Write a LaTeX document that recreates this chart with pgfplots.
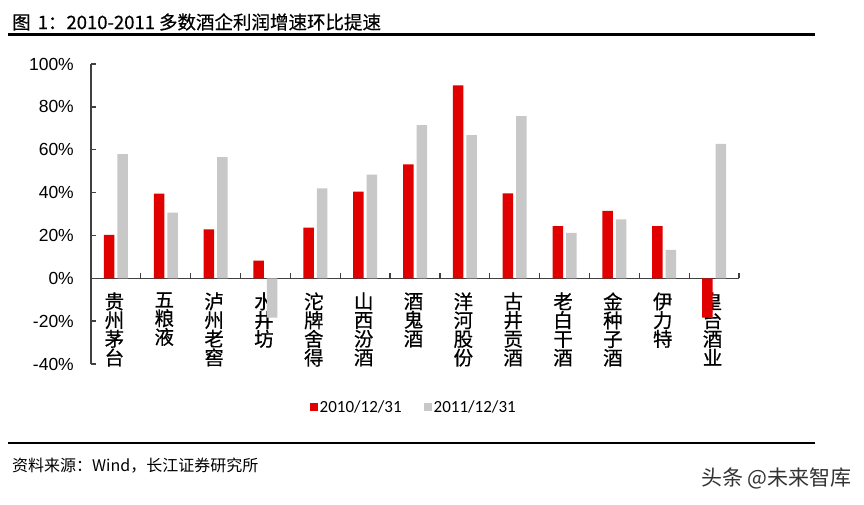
\documentclass[border=0pt]{standalone}
\usepackage{pgfplots}
\pgfplotsset{compat=1.18}
\usepackage{fontspec}
\setmainfont{Liberation Sans}
\newfontfamily\cjk{Noto Sans CJK SC}
\newfontfamily\cjkm[FakeBold=0.5]{Noto Sans CJK SC}
\newfontfamily\cali{Carlito}
\definecolor{barred}{RGB}{224,0,0}
\definecolor{bargrey}{RGB}{200,200,200}
\definecolor{axisgrey}{RGB}{64,64,64}
\begin{document}
\begin{tikzpicture}
\fill[white] (0pt,0pt) rectangle (864pt,504pt);
\path[use as bounding box] (0pt,0pt) rectangle (864pt,504pt);
\node[anchor=west, inner sep=0pt, font=\cjkm\fontsize{18.5}{20}\selectfont] at (12pt,482pt) {图\hspace{7pt}1：2010-2011\hspace{4pt}多数酒企利润增速环比提速};
\draw[line width=3pt] (8pt,469pt) -- (815pt,469pt);
\draw[line width=2pt] (8pt,61pt) -- (815pt,61pt);
\node[anchor=west, inner sep=0pt, font=\cjk\fontsize{16}{18}\selectfont] at (12pt,38pt) {资料来源：Wind，长江证券研究所};
\node[anchor=east, inner sep=0pt, font=\cjk\fontsize{21}{22}\selectfont, text=black!80] at (852pt,26pt) {头条 @未来智库};
\begin{axis}[
  at={(91pt,140pt)}, anchor=south west,
  width=648pt, height=300pt, scale only axis,
  xmin=-0.5, xmax=12.5, ymin=-40, ymax=100,
  axis x line=middle, axis y line=left,
  axis line style={-, draw=axisgrey, line width=1.3pt},
  hide obscured x ticks=false, hide obscured y ticks=false,
  tick align=inside,
  xtick={0,...,12},
  xticklabels={{贵\\州\\茅\\台},{五\\粮\\液},{泸\\州\\老\\窖},{水\\井\\坊},{沱\\牌\\舍\\得},{山\\西\\汾\\酒},{酒\\鬼\\酒},{洋\\河\\股\\份},{古\\井\\贡\\酒},{老\\白\\干\\酒},{金\\种\\子\\酒},{伊\\力\\特},{皇\\台\\酒\\业}},
  minor xtick={0.5,1.5,...,12.5},
  major x tick style={draw=none},
  minor x tick style={draw=axisgrey, line width=1.3pt},
  minor tick length=5pt,
  ytick={-40,-20,...,100},
  major y tick style={draw=axisgrey, line width=1.3pt},
  major tick length=5pt,
  /pgf/number format/assume math mode=true,
  yticklabel={\pgfmathprintnumber{\tick}\%},
  yticklabel style={font=\fontsize{17.5}{20}\selectfont, anchor=east, inner sep=0pt, xshift=-17pt},
  xticklabel style={font=\cjkm\fontsize{19.5}{18.7}\selectfont, align=center, anchor=north, inner sep=0pt, yshift=-14pt, xshift=-1.5pt},
  legend style={at={(0.498,0)}, anchor=center, yshift=-43pt, draw=none, fill=none,
    font=\cali\fontsize{17}{20}\selectfont, /tikz/every even column/.append style={column sep=20pt}},
  legend columns=2,
  legend cell align=left,
]
\addplot[ybar, bar width=10.5pt, bar shift=-6.75pt, fill=barred, draw=none,
  legend image code/.code={\fill[barred] (0pt,-4pt) rectangle (8pt,4pt);}]
  coordinates {(0,20.3) (1,39.5) (2,22.8) (3,8.3) (4,23.6) (5,40.4) (6,53.2) (7,90.0) (8,39.6) (9,24.3) (10,31.5) (11,24.3) (12,-18.3)};
\addplot[ybar, bar width=10.5pt, bar shift=6.75pt, fill=bargrey, draw=none,
  legend image code/.code={\fill[bargrey] (0pt,-4pt) rectangle (8pt,4pt);}]
  coordinates {(0,57.9) (1,30.7) (2,56.5) (3,-18.3) (4,42.0) (5,48.4) (6,71.5) (7,66.8) (8,75.7) (9,21.2) (10,27.5) (11,13.3) (12,62.7)};
\legend{2010/12/31, 2011/12/31}
\end{axis}
\end{tikzpicture}
\end{document}
